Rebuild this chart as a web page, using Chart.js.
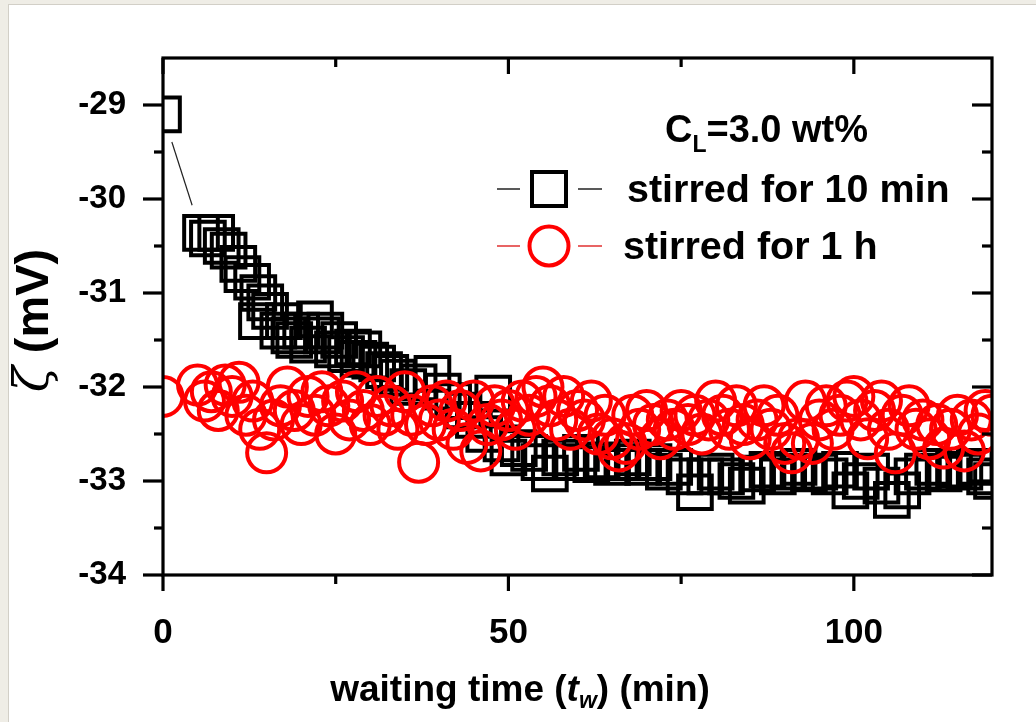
<!DOCTYPE html>
<html><head><meta charset="utf-8">
<script src="https://cdn.jsdelivr.net/npm/chart.js@4/dist/chart.umd.min.js"></script>
<style>
html,body{margin:0;padding:0;background:#efede6;width:1036px;height:722px;overflow:hidden}
#panel{position:absolute;left:8px;top:4px;width:1028px;height:718px;background:#fff;border-left:1px solid #d2cfc7;border-top:1px solid #d2cfc7}
canvas{display:block}
</style></head>
<body><div id="panel"><canvas id="c" width="1028" height="718"></canvas></div>
<script>
// ---- data ----
const sqTime = [0,5.5,6.5,7.7,8.5,9.5,10.9,11.5,12.9,13.6,13.8,14.8,15.5,16.7,17.5,18.3,19.0,20.0,21.0,22.0,23.0,23.5,24.6,25.5,26.5,27.5,28.3,29.0,30.0,31.0,32.0,32.9,34.0,35.5,37.0,39.0,40.5,42.0,43.5,45.0,46.5,47.8,49.0,50.0,51.5,53.0,54.5,56.0,57.5,59.0,60.5,62.0,63.5,65.0,66.5,68.0,69.5,71.0,72.5,74.0,75.5,77.0,78.5,80.0,81.5,83.0,84.5,86.0,87.5,89.0,90.5,92.0,93.5,95.0,96.5,98.0,99.5,101.0,102.5,104.0,105.5,107.0,108.5,110.0,111.5,113.0,114.5,116.0,117.5,119.0,120.0];
const sqZeta = [-29.10,-30.36,-30.42,-30.36,-30.50,-30.55,-30.69,-30.80,-30.88,-31.30,-31.00,-31.10,-31.19,-31.40,-31.30,-31.45,-31.50,-31.40,-31.55,-31.28,-31.45,-31.40,-31.60,-31.50,-31.65,-31.58,-31.70,-31.60,-31.72,-31.75,-31.82,-31.85,-31.90,-32.00,-31.95,-31.86,-32.05,-32.15,-32.25,-32.35,-32.50,-32.07,-32.60,-32.75,-32.65,-32.70,-32.80,-32.92,-32.75,-32.80,-32.70,-32.82,-32.78,-32.85,-32.80,-32.75,-32.85,-32.80,-32.90,-32.85,-32.95,-33.12,-32.95,-32.90,-32.95,-33.00,-33.05,-32.92,-32.88,-32.95,-32.90,-32.85,-32.92,-32.90,-32.95,-32.88,-33.10,-33.00,-32.90,-33.05,-33.20,-33.10,-32.95,-32.90,-32.85,-32.92,-32.88,-32.90,-32.85,-32.95,-33.00];
const ciTime = [0,5,6,7,8,9,10,11,12,13,14,15,16,17,18,19,20,21,22,23,24,25,26,27,28,29,30,31,32,33,34,35,36,37,38,39,40,41,42,43,44,45,46,47,48,49,50,51,52,53,54,55,56,57,58,59,60,61,62,63,64,65,66,67,68,69,70,71,72,73,74,75,76,77,78,79,80,81,82,83,84,85,86,87,88,89,90,91,92,93,94,95,96,97,98,99,100,101,102,103,104,105,106,107,108,109,110,111,112,113,114,115,116,117,118,119,120];
const ciZeta = [-32.10,-31.98,-32.15,-32.05,-32.25,-31.98,-32.10,-31.95,-32.30,-32.15,-32.45,-32.70,-32.35,-32.20,-32.00,-32.25,-32.40,-32.10,-32.30,-32.05,-32.20,-32.50,-32.15,-32.35,-32.05,-32.25,-32.40,-32.10,-32.30,-32.20,-32.45,-32.05,-32.30,-32.80,-32.40,-32.20,-32.35,-32.15,-32.45,-32.25,-32.60,-32.15,-32.68,-32.40,-32.20,-32.35,-32.25,-32.45,-32.15,-32.30,-32.10,-32.00,-32.20,-32.35,-32.10,-32.45,-32.25,-32.35,-32.15,-32.50,-32.30,-32.55,-32.68,-32.60,-32.30,-32.45,-32.25,-32.40,-32.55,-32.35,-32.45,-32.25,-32.40,-32.30,-32.50,-32.35,-32.15,-32.30,-32.45,-32.20,-32.40,-32.55,-32.35,-32.20,-32.45,-32.30,-32.60,-32.70,-32.55,-32.15,-32.60,-32.35,-32.20,-32.45,-32.30,-32.15,-32.10,-32.35,-32.55,-32.25,-32.15,-32.45,-32.70,-32.30,-32.20,-32.45,-32.35,-32.55,-32.40,-32.65,-32.45,-32.30,-32.68,-32.35,-32.50,-32.25,-32.30];
const xMajorTicks = [0,50,100];
const xMinorTicks = [25,75];
const yMajorTicks = [-34,-33,-32,-31,-30,-29];
const yMinorTicks = [-33.5,-32.5,-31.5,-30.5,-29.5];
const seriesLabels = ['stirred for 10 min','stirred for 1 h'];

const FONT = '"Liberation Sans", Arial, sans-serif';
Chart.defaults.font.family = FONT;
Chart.defaults.color = '#000';

// lines between points, leaving a gap around each symbol
const gapLines = {
  id:'gapLines',
  beforeDatasetsDraw(chart){
    const ctx = chart.ctx, a = chart.chartArea;
    ctx.save();
    ctx.beginPath(); ctx.rect(a.left,a.top,a.right-a.left,a.bottom-a.top); ctx.clip();
    chart.data.datasets.forEach((ds,di)=>{
      const pts = chart.getDatasetMeta(di).data;
      ctx.strokeStyle = ds.borderColor; ctx.lineWidth = ds.borderWidth;
      for(let i=0;i<pts.length-1;i++){
        const p0=pts[i], p1=pts[i+1];
        const dx=p1.x-p0.x, dy=p1.y-p0.y, d=Math.hypot(dx,dy);
        const g=ds.lineGap;
        if(d>2*g+2){
          const ux=dx/d, uy=dy/d;
          ctx.beginPath(); ctx.moveTo(p0.x+ux*g,p0.y+uy*g); ctx.lineTo(p1.x-ux*g,p1.y-uy*g); ctx.stroke();
        }
      }
    });
    ctx.restore();
  }
};

const decor = {
  id:'decor',
  afterDatasetsDraw(chart){
    const ctx = chart.ctx, a = chart.chartArea;
    const xs = chart.scales.x, ys = chart.scales.y;
    ctx.save();
    ctx.strokeStyle='#000'; ctx.lineWidth=3.2; ctx.lineCap='butt';
    ctx.strokeRect(a.left,a.top,a.right-a.left,a.bottom-a.top);
    const tick=(x1,y1,x2,y2)=>{ctx.beginPath();ctx.moveTo(x1,y1);ctx.lineTo(x2,y2);ctx.stroke();};
    xMajorTicks.forEach(v=>{const x=xs.getPixelForValue(v); tick(x,a.bottom,x,a.bottom+16); tick(x,a.top,x,a.top+16);});
    xMinorTicks.forEach(v=>{const x=xs.getPixelForValue(v); tick(x,a.bottom,x,a.bottom+9); tick(x,a.top,x,a.top+9);});
    yMajorTicks.forEach(v=>{const y=ys.getPixelForValue(v); tick(a.left-20,y,a.left,y); tick(a.right-20,y,a.right,y);});
    yMinorTicks.forEach(v=>{const y=ys.getPixelForValue(v); tick(a.left-9,y,a.left,y); tick(a.right-10,y,a.right,y);});

    // legend
    ctx.fillStyle='#000'; ctx.textBaseline='alphabetic'; ctx.textAlign='left';
    ctx.font = 'bold 38px '+FONT;
    let tx = a.left + 502;
    ctx.fillText('C', tx, a.top+84);
    tx += ctx.measureText('C').width;
    ctx.font = 'bold 23px '+FONT;
    ctx.fillText('L', tx, a.top+94);
    tx += ctx.measureText('L').width;
    ctx.font = 'bold 38px '+FONT;
    ctx.fillText('=3.0 wt%', tx, a.top+84);

    const ds = chart.data.datasets;
    const rows = [a.top+131, a.top+188];
    ds.forEach((d,i)=>{
      const cy = rows[i], cx = a.left+386;
      ctx.strokeStyle = d.borderColor; ctx.lineWidth = 1.5;
      tick(cx-52,cy,cx-29,cy); tick(cx+29,cy,cx+53,cy);
      ctx.strokeStyle = d.pointBorderColor; ctx.lineWidth = 4;
      if(d.pointStyle==='rect'){ ctx.strokeRect(cx-17,cy-17,34,34); }
      else { ctx.beginPath(); ctx.arc(cx,cy,19.5,0,Math.PI*2); ctx.stroke(); }
      ctx.fillStyle='#000'; ctx.font='bold 39.5px '+FONT;
      ctx.fillText(d.label, cx + (i===0?78:74), cy+13);
    });

    // x axis title
    const parts = [
      {t:'waiting time (', f:'bold 37px '+FONT, dy:0},
      {t:'t', f:'italic bold 37px '+FONT, dy:0},
      {t:'w', f:'italic bold 23px '+FONT, dy:7},
      {t:') (min)', f:'bold 37px '+FONT, dy:0}
    ];
    let w=0; parts.forEach(p=>{ctx.font=p.f; p.w=ctx.measureText(p.t).width; w+=p.w;});
    let px = a.left + 357 - w/2; const by = a.bottom + 126;
    parts.forEach(p=>{ctx.font=p.f; ctx.fillText(p.t,px,by+p.dy); px+=p.w;});

    // y axis title (rotated)
    ctx.translate(23, (a.top+a.bottom)/2);
    ctx.rotate(-Math.PI/2);
    const yp = [
      {t:'\u03B6', f:'italic 48px "DejaVu Serif", serif'},
      {t:' (mV)', f:'bold 47px '+FONT}
    ];
    w=0; yp.forEach(p=>{ctx.font=p.f; p.w=ctx.measureText(p.t).width; w+=p.w;});
    px = -w/2 - 4;
    yp.forEach(p=>{ctx.font=p.f; ctx.fillText(p.t,px,16); px+=p.w;});
    ctx.restore();
  }
};

const mk = (ts,vs)=>ts.map((t,i)=>({x:t,y:vs[i]}));

new Chart(document.getElementById('c'), {
  type:'scatter',
  data:{datasets:[
    {label:seriesLabels[0], data:mk(sqTime,sqZeta), pointStyle:'rect', pointRadius:23.8, pointHoverRadius:23.8,
     pointBorderWidth:4, pointBorderColor:'#000', pointBackgroundColor:'rgba(0,0,0,0)',
     borderColor:'#222', borderWidth:1.2, showLine:false, lineGap:29, order:1, clip:0},
    {label:seriesLabels[1], data:mk(ciTime,ciZeta), pointStyle:'circle', pointRadius:19.5, pointHoverRadius:19.5,
     pointBorderWidth:4, pointBorderColor:'#ff0000', pointBackgroundColor:'rgba(0,0,0,0)',
     borderColor:'#e03030', borderWidth:1.2, showLine:false, lineGap:26, order:0, clip:0}
  ]},
  options:{
    responsive:false, animation:false, events:[],
    layout:{padding:{left:0,right:45,top:53,bottom:0}},
    plugins:{legend:{display:false}, tooltip:{enabled:false}},
    scales:{
      x:{type:'linear', min:0, max:120, grid:{display:false}, border:{display:false},
         afterBuildTicks:s=>{s.ticks = xMajorTicks.map(v=>({value:v}));},
         ticks:{font:{size:35,weight:'bold'}, color:'#000', padding:29, maxRotation:0},
         afterFit:s=>{s.height=148;}},
      y:{type:'linear', min:-34, max:-28.5, grid:{display:false}, border:{display:false},
         afterBuildTicks:s=>{s.ticks = yMajorTicks.map(v=>({value:v}));},
         ticks:{font:{size:33,weight:'bold'}, color:'#000', padding:29, callback:v=>String(v)},
         afterFit:s=>{s.width=154;}}
    }
  },
  plugins:[gapLines, decor]
});
</script>
</body></html>
